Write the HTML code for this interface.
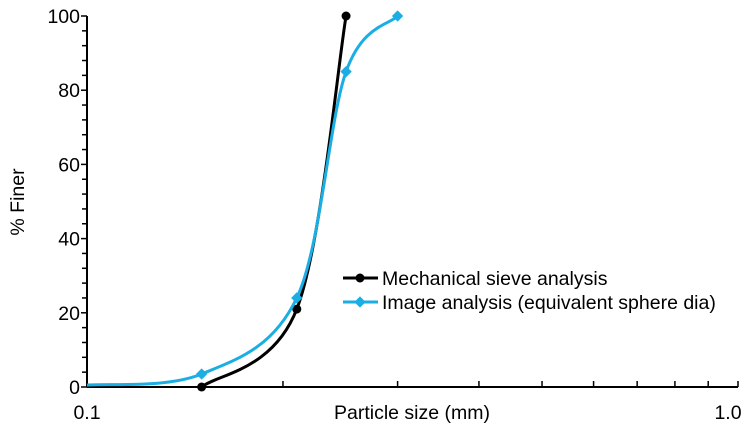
<!DOCTYPE html>
<html><head><meta charset="utf-8"><style>
body{margin:0;background:#fff;font-family:"Liberation Sans",Arial,sans-serif}
svg text{font-family:"Liberation Sans",Arial,sans-serif;fill:#000}
</style></head><body>
<svg id="chart" width="747" height="425" viewBox="0 0 747 425"></svg>
<script>
const xMechanical=[0.15,0.21,0.25];
const yMechanical=[0,21,100];
const xImage=[0.1,0.15,0.21,0.25,0.3];
const yImage=[0.5,3.5,24,85,100];
const yTicks=[0,20,40,60,80,100];
const xTickLabels=["0.1","1.0"];
const NS="http://www.w3.org/2000/svg";
const svg=document.getElementById('chart');
const X0=87,X1=738,Y0=387,Y1=16;
const FS=19.5;
const sx=v=>X0+(Math.log10(v)+1)*(X1-X0);
const sy=v=>Y0-v/100*(Y0-Y1);
function el(t,a,p){const e=document.createElementNS(NS,t);for(const k in a)e.setAttribute(k,a[k]);(p||svg).appendChild(e);return e;}
let a=el('line',{x1:X0,y1:Y1,x2:X0,y2:Y0,stroke:'#000','stroke-width':2});


a=el('line',{x1:X0,y1:Y0,x2:X1,y2:Y0,stroke:'#000','stroke-width':2});


for(let v=0;v<=100;v+=4){const major=v%20===0;el('line',{x1:X0-(major?6:5),y1:sy(v),x2:X0,y2:sy(v),stroke:'#000','stroke-width':1.5});}
yTicks.forEach(v=>{const t=el('text',{x:X0-7,y:sy(v)+7,'text-anchor':'end','font-size':FS});t.textContent=v;

});
for(let m=2;m<=9;m++){el('line',{x1:sx(m/10),y1:Y0,x2:sx(m/10),y2:Y0-6,stroke:'#000','stroke-width':1.5});}
el('line',{x1:X1,y1:Y0,x2:X1,y2:Y0-6,stroke:'#000','stroke-width':1.5});
[0.1,1].forEach((v,i)=>{const t=el('text',{x:Math.min(sx(v),728),y:419,'text-anchor':'middle','font-size':FS});t.textContent=xTickLabels[i];

});
let t=el('text',{x:412,y:419,'text-anchor':'middle','font-size':FS});t.textContent='Particle size (mm)';


t=el('text',{x:0,y:0,'text-anchor':'middle','font-size':FS,transform:'translate(24,202) rotate(-90)'});t.textContent='% Finer';


function smooth(pts){let d=`M${pts[0][0]},${pts[0][1]}`;for(let i=0;i<pts.length-1;i++){const p0=pts[i-1]||pts[i],p1=pts[i],p2=pts[i+1],p3=pts[i+2]||p2;const k=1/6;
d+=` C${p1[0]+(p2[0]-p0[0])*k},${p1[1]+(p2[1]-p0[1])*k} ${p2[0]-(p3[0]-p1[0])*k},${p2[1]-(p3[1]-p1[1])*k} ${p2[0]},${p2[1]}`;}return d;}
function series(xs,ys,color,marker,name,skipFirst){
const pts=xs.map((x,i)=>[sx(x),sy(ys[i])]);
const p=el('path',{d:smooth(pts),fill:'none',stroke:color,'stroke-width':3});


pts.forEach((q,i)=>{if(skipFirst&&i===0)return;let m;
if(marker==='circle')m=el('circle',{cx:q[0],cy:q[1],r:4.5,fill:color});
else m=el('rect',{x:q[0]-4,y:q[1]-4,width:8,height:8,fill:color,transform:`rotate(45 ${q[0]} ${q[1]})`});

});}
series(xMechanical,yMechanical,'#000','circle','mechanical-sieve',false);
series(xImage,yImage,'#1aaee5','diamond','image-analysis',true);
const lg=el('g',{});


el('line',{x1:343,y1:278,x2:378,y2:278,stroke:'#000','stroke-width':3},lg);
el('circle',{cx:360,cy:278,r:4.5,fill:'#000'},lg);
t=el('text',{x:382,y:285,'font-size':FS},lg);t.textContent='Mechanical sieve analysis';


el('line',{x1:343,y1:302,x2:378,y2:302,stroke:'#1aaee5','stroke-width':3},lg);
el('rect',{x:356,y:298,width:8,height:8,fill:'#1aaee5',transform:'rotate(45 360 302)'},lg);
t=el('text',{x:382,y:309,'font-size':FS},lg);t.textContent='Image analysis (equivalent sphere dia)';


</script>
</body></html>
